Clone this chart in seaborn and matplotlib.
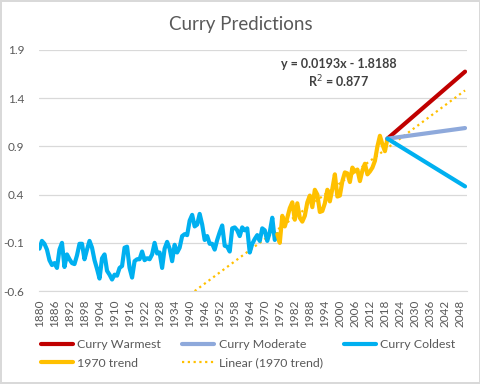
import matplotlib
matplotlib.use("Agg")
import matplotlib.pyplot as plt
import seaborn as sns

# observed anomalies, blue part (1880-1975)
hist_years = list(range(1880, 1976))
hist_vals = [-0.16, -0.08, -0.11, -0.17, -0.28, -0.33, -0.31, -0.36, -0.17, -0.10,
             -0.35, -0.22, -0.27, -0.31, -0.32, -0.23, -0.11, -0.11, -0.27, -0.17,
             -0.08, -0.15, -0.28, -0.37, -0.47, -0.26, -0.22, -0.39, -0.43, -0.48,
             -0.43, -0.44, -0.36, -0.34, -0.15, -0.14, -0.36, -0.46, -0.29, -0.27,
             -0.27, -0.19, -0.28, -0.26, -0.27, -0.22, -0.10, -0.21, -0.20, -0.36,
             -0.16, -0.09, -0.16, -0.29, -0.12, -0.20, -0.15, -0.03, -0.01, -0.02,
             0.13, 0.19, 0.07, 0.09, 0.20, 0.09, -0.07, -0.03, -0.11, -0.11,
             -0.17, -0.07, 0.01, 0.08, -0.13, -0.14, -0.19, 0.05, 0.06, 0.03,
             -0.03, 0.06, 0.03, 0.05, -0.20, -0.11, -0.06, -0.02, -0.08, 0.05,
             0.03, -0.08, 0.01, 0.16, -0.07, -0.01]

# 1970 trend series (yellow, 1975-2019)
trend_years = list(range(1975, 2020))
trend_vals = [-0.01, -0.10, 0.18, 0.07, 0.16, 0.26, 0.32, 0.14, 0.31, 0.16,
              0.12, 0.18, 0.32, 0.39, 0.27, 0.45, 0.40, 0.22, 0.23, 0.31,
              0.45, 0.33, 0.46, 0.61, 0.38, 0.39, 0.54, 0.63, 0.62, 0.53,
              0.68, 0.64, 0.66, 0.54, 0.65, 0.72, 0.61, 0.64, 0.68, 0.75,
              0.90, 1.01, 0.92, 0.85, 0.98]

# Curry projections, start and end points
proj_years = [2019, 2050]
warmest = [0.98, 1.675]
moderate = [0.98, 1.09]
coldest = [0.98, 0.485]

# Excel linear trendline, end points
lin_years = [1942, 2050]
lin_vals = [-0.60, 1.48]

tick_years = list(range(1880, 2050, 6))
y_ticks = [-0.6, -0.1, 0.4, 0.9, 1.4, 1.9]

grey = '#595959'
sns.set_style('white')
plt.rcParams['font.family'] = ['Lato', 'DejaVu Sans']

fig = plt.figure(figsize=(4.81, 3.84), dpi=100, edgecolor='#D9D9D9', linewidth=1.5)
ax = fig.add_axes([0.082, 0.242, 0.889, 0.628])

lw = 3.0
sns.lineplot(x=lin_years, y=lin_vals, ax=ax, color='#FFC000', lw=1.6,
             linestyle=(0, (1, 1.6)), label='Linear (1970 trend)')
sns.lineplot(x=hist_years, y=hist_vals, ax=ax, color='#00B0F0', lw=lw)
sns.lineplot(x=trend_years, y=trend_vals, ax=ax, color='#FFC000', lw=lw, label='1970 trend')
sns.lineplot(x=proj_years, y=warmest, ax=ax, color='#C00000', lw=lw, label='Curry Warmest')
sns.lineplot(x=proj_years, y=moderate, ax=ax, color='#8EA9DB', lw=lw, label='Curry Moderate')
sns.lineplot(x=proj_years, y=coldest, ax=ax, color='#00B0F0', lw=lw, label='Curry Coldest')

ax.set_xlim(1880, 2050.8)
ax.set_ylim(-0.6, 1.9)
ax.set_yticks(y_ticks)
ax.set_yticklabels([f'{v:.1f}' for v in y_ticks])
ax.set_xticks(tick_years)
ax.set_xticklabels([str(y) for y in tick_years], rotation=90)
ax.tick_params(axis='both', length=0, labelsize=8.5, colors=grey)
ax.tick_params(axis='y', pad=11)
ax.tick_params(axis='x', pad=6)
ax.grid(axis='y', color='#D9D9D9', lw=0.9)
ax.set_axisbelow(True)
for s in ['top', 'right', 'left']:
    ax.spines[s].set_visible(False)
ax.spines['bottom'].set_color('#D9D9D9')
ax.set_xlabel('')
ax.set_ylabel('')

fig.text(0.5, 0.935, 'Curry Predictions', ha='center', va='center', fontsize=13.5, color=grey)
ax.text(1999.5, 1.65, 'y = 0.0193x - 1.8188\nR$^2$ = 0.877', ha='center', va='center',
        fontsize=9, fontweight='bold', color='#404040', linespacing=1.2)

# legend laid out row by row like Excel
h, l = ax.get_legend_handles_labels()
ax.get_legend().remove()
order = ['Curry Warmest', '1970 trend', 'Curry Moderate', 'Linear (1970 trend)', 'Curry Coldest']
hs = [h[l.index(n)] for n in order]
fig.legend(hs, order, ncol=3, loc='center left', bbox_to_anchor=(0.085, 0.078), frameon=False,
           fontsize=8.9, labelcolor=grey, handlelength=2.6, handletextpad=0.35,
           columnspacing=1.7, labelspacing=0.6, borderpad=0, borderaxespad=0)

fig.savefig('out.png', dpi=100)
